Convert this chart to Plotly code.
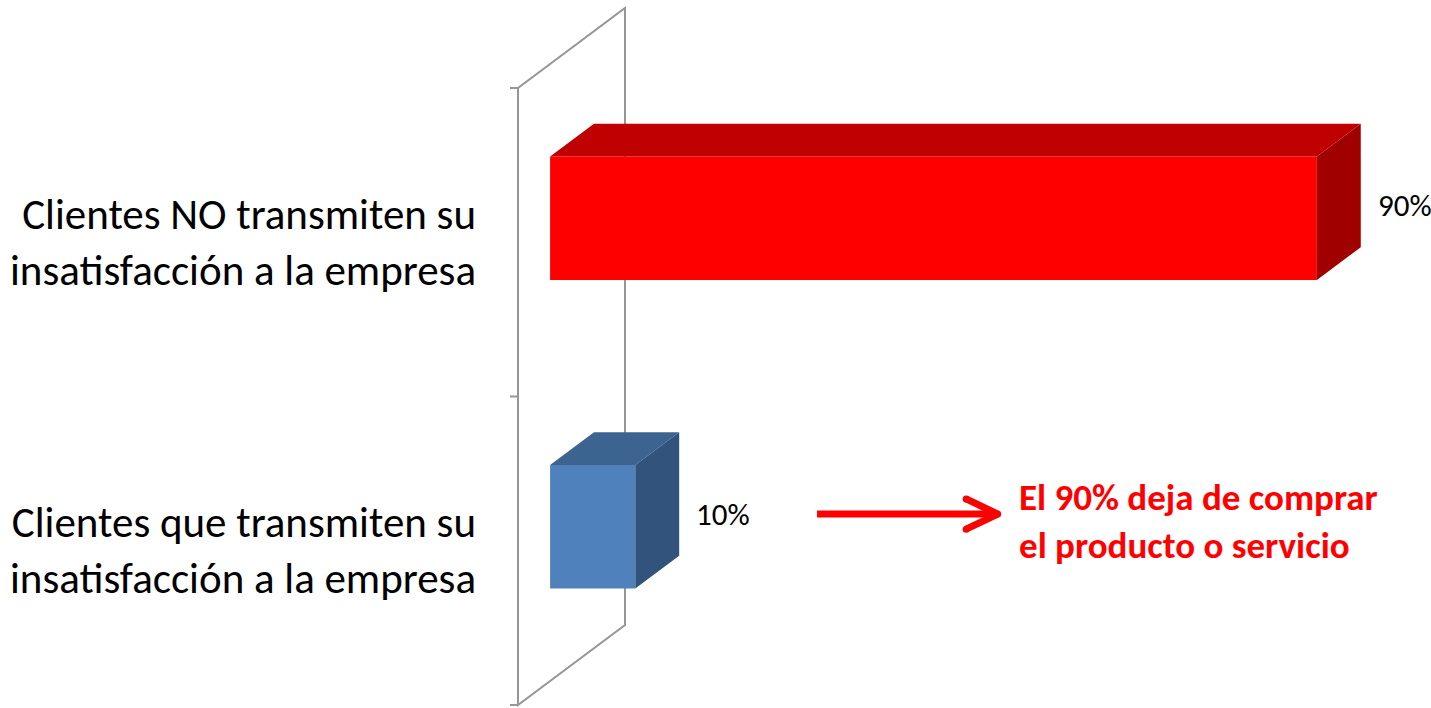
import plotly.graph_objects as go

# ---------------- data ----------------
categories = [
    "Clientes que transmiten su<br>insatisfacción a la empresa",
    "Clientes NO transmiten su<br>insatisfacción a la empresa",
]
values = [10, 90]
value_labels = ["10%", "90%"]
note_text = "El 90% deja de comprar<br>el producto o servicio"

# ---------------- styles ----------------
front_colors = ["#4F81BD", "#FF0000"]
top_colors = ["#3D6390", "#C00000"]
side_colors = ["#32537C", "#A00000"]
wall_color = "#969696"
FONT = "Calibri, Carlito, Lato, sans-serif"

W, H = 1431, 708
# pseudo-3D projection parameters (data units)
DX, DY = 12.56, 0.2593      # full depth offset of the floor/wall
D_FRONT, D_BACK = 0.30, 0.71  # depth of bar front / back faces
HALF = 0.2                   # half bar thickness (category units)

fig = go.Figure()

# wall outline (value = 0 plane), drawn below traces
cats_idx = list(range(len(categories)))
c_lo, c_hi = -0.5, len(categories) - 0.5
wall_pts = [(0, c_lo), (0, c_hi), (DX, c_hi + DY), (DX, c_lo + DY)]
path = "M " + " L ".join(f"{x},{y}" for x, y in wall_pts) + " Z"
fig.add_shape(type="path", path=path, xref="x", yref="y", layer="below",
              line=dict(color=wall_color, width=2))
for k in range(len(categories) + 1):
    c = c_lo + k
    fig.add_shape(type="line", x0=-0.94, x1=0, y0=c, y1=c, xref="x", yref="y",
                  layer="below", line=dict(color=wall_color, width=2))

ddx = (D_BACK - D_FRONT) * DX
ddy = (D_BACK - D_FRONT) * DY
for i, (c, v) in enumerate(zip(cats_idx, values)):
    x0 = D_FRONT * DX
    x1 = x0 + v
    yc = c + D_FRONT * DY
    top, bot = yc + HALF, yc - HALF
    # front face
    fig.add_trace(go.Bar(x=[v], y=[yc], base=[x0], orientation="h", width=HALF * 2,
                         marker=dict(color=front_colors[i], line=dict(width=0)),
                         hoverinfo="skip", showlegend=False))
    # top face
    fig.add_trace(go.Scatter(x=[x0, x1, x1 + ddx, x0 + ddx, x0],
                             y=[top, top, top + ddy, top + ddy, top],
                             fill="toself", fillcolor=top_colors[i], mode="lines",
                             line=dict(width=0, color=top_colors[i]),
                             hoverinfo="skip", showlegend=False))
    # side face
    fig.add_trace(go.Scatter(x=[x1, x1, x1 + ddx, x1 + ddx, x1],
                             y=[bot, top, top + ddy, bot + ddy, bot],
                             fill="toself", fillcolor=side_colors[i], mode="lines",
                             line=dict(width=0, color=side_colors[i]),
                             hoverinfo="skip", showlegend=False))
    # value label
    fig.add_annotation(x=x1 + ddx, y=c + 0.46 * DY, text=value_labels[i],
                       xanchor="left", yanchor="middle", xshift=15, showarrow=False,
                       font=dict(family=FONT, size=31, color="#000000"))
    # category label
    fig.add_annotation(x=-4.7, y=c, text=categories[i], xanchor="right",
                       yanchor="middle", align="right", showarrow=False,
                       font=dict(family=FONT, size=43, color="#000000"))

# arrow + note
arrow_col = "#FF0000"
fig.add_trace(go.Scatter(x=[35.1, 56.3], y=[0.119, 0.119], mode="lines",
                         line=dict(color=arrow_col, width=7),
                         hoverinfo="skip", showlegend=False))
fig.add_trace(go.Scatter(x=[52.6, 56.3, 52.6], y=[0.168, 0.119, 0.070],
                         mode="lines+markers",
                         line=dict(color=arrow_col, width=7),
                         marker=dict(color=arrow_col, size=7),
                         hoverinfo="skip", showlegend=False))
fig.add_annotation(x=58.6, y=0.094, text="<b>" + note_text + "</b>",
                   xanchor="left", yanchor="middle", align="left", showarrow=False,
                   font=dict(family=FONT, size=37, color=arrow_col))

fig.update_layout(
    width=W, height=H, autosize=False,
    margin=dict(l=0, r=0, t=0, b=0),
    paper_bgcolor="white", plot_bgcolor="white",
    xaxis=dict(range=[-518 / 8.52, (W - 518) / 8.52], visible=False, fixedrange=True),
    yaxis=dict(range=[-0.5 - 3 / 308.5, -0.5 + 705 / 308.5], visible=False, fixedrange=True),
    barmode="overlay",
)

fig.write_html("out.html", config={"displayModeBar": False},
               post_script="document.body.style.margin='0px';")
